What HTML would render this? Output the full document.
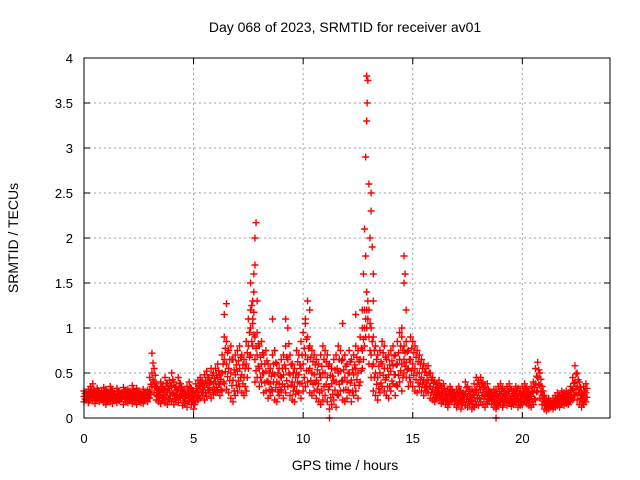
<!DOCTYPE html>
<html><head><meta charset="utf-8"><style>
body{margin:0;background:#fff}
svg{display:block;font-family:"Liberation Sans",sans-serif}
</style></head><body>
<svg id="chart" width="640" height="480">
<text x="345" y="32" font-size="14" text-anchor="middle">Day 068 of 2023, SRMTID for receiver av01</text>
<text x="345" y="470" font-size="14" text-anchor="middle">GPS time / hours</text>
<text transform="translate(18,238) rotate(-90)" font-size="14" text-anchor="middle">SRMTID / TECUs</text>
<g id="grid"></g><g id="ticks"></g><g id="marks"></g>
<rect x="84" y="58" width="526" height="360" fill="none" stroke="#000" stroke-width="1"/>
</svg>
<script>
const xTicks=[0,5,10,15,20];
const yTicks=[0,0.5,1,1.5,2,2.5,3,3.5,4];
const yTickLabels=["0","0.5","1","1.5","2","2.5","3","3.5","4"];
const seriesLow=[.18,.20,.17,.22,.19,.16,.21,.18,.20,.17,.15,.19,.18,.16,.20,.17,.19,.21,.15,.18,.17,.20,.16,.18,.15,.19,.17,.16,.20,.18,.22,.35,.28,.20,.18,.16,.19,.17,.15,.20,.18,.15,.20,.17,.22,.14,.16,.12,.18,.15,.10,.18,.20,.22,.25,.20,.24,.28,.22,.26,.28,.30,.25,.30,.38,.32,.28,.22,.18,.25,.30,.35,.28,.25,.30,.55,.70,.80,.40,.45,.35,.40,.28,.30,.22,.25,.30,.20,.18,.25,.30,.22,.28,.35,.25,.20,.18,.30,.28,.22,.30,.35,.40,.28,.25,.30,.22,.18,.15,.20,.25,.18,.10,.15,.20,.12,.25,.30,.20,.18,.22,.28,.18,.25,.30,.22,.40,.55,.80,1.00,.60,.45,.30,.25,.20,.28,.35,.30,.25,.22,.30,.38,.25,.35,.40,.30,.50,.45,.35,.40,.35,.30,.28,.35,.30,.25,.30,.28,.22,.20,.18,.22,.20,.16,.18,.15,.12,.18,.20,.15,.12,.15,.10,.18,.14,.12,.16,.10,.12,.15,.14,.18,.15,.12,.16,.20,.15,.12,.10,.14,.15,.12,.18,.14,.16,.13,.15,.17,.12,.14,.15,.18,.16,.14,.12,.15,.20,.30,.22,.15,.10,.08,.10,.12,.10,.12,.14,.12,.15,.14,.16,.15,.18,.20,.25,.20,.15,.12,.15,.18];
const seriesHigh=[.30,.28,.32,.35,.38,.30,.33,.28,.30,.34,.32,.28,.35,.30,.27,.33,.30,.28,.34,.30,.32,.30,.36,.28,.33,.30,.27,.32,.29,.31,.45,.72,.55,.38,.32,.40,.35,.45,.38,.42,.50,.40,.35,.45,.38,.32,.30,.35,.40,.33,.30,.38,.42,.45,.40,.48,.52,.45,.55,.50,.55,.60,.48,.70,.90,.85,.75,.80,.65,.70,.75,.80,.70,.65,.85,1.10,1.50,1.30,.90,.95,.80,.85,.70,.75,.60,.55,.70,.75,.60,.55,.65,.70,.80,1.00,.70,.60,.55,.75,.70,.85,.95,1.05,.90,.80,.75,.70,.65,.60,.70,.80,.75,.70,.60,.55,.65,.70,.80,.75,.65,.70,.60,.75,.65,.70,.80,.75,.90,1.00,1.20,1.40,1.20,1.00,.90,.80,.70,.75,.85,.80,.65,.70,.75,.80,.70,.85,.95,.90,.80,.85,.75,.90,.85,.80,.75,.70,.65,.60,.55,.58,.50,.45,.40,.38,.42,.35,.38,.30,.32,.35,.30,.28,.32,.35,.30,.28,.40,.35,.30,.32,.38,.45,.42,.45,.40,.35,.38,.30,.28,.32,.30,.35,.38,.33,.30,.35,.38,.32,.30,.35,.33,.30,.35,.38,.33,.30,.35,.40,.55,.62,.50,.35,.25,.20,.22,.18,.22,.25,.28,.25,.30,.28,.30,.28,.35,.45,.58,.50,.40,.30,.35,.38];
const seriesMid=[.24,.25,.22,.27,.26,.23,.28,.25,.24,.26,.23,.25,.27,.24,.22,.26,.24,.25,.28,.24,.25,.24,.27,.23,.26,.22,.24,.25,.23,.26,.30,.50,.40,.28,.25,.30,.26,.32,.28,.30,.35,.28,.26,.32,.30,.24,.22,.25,.28,.24,.20,.28,.30,.35,.32,.36,.38,.34,.40,.38,.40,.45,.38,.50,.65,.60,.55,.50,.42,.48,.52,.55,.48,.45,.60,.80,1.00,1.05,.65,.70,.55,.60,.50,.52,.40,.38,.50,.48,.40,.38,.45,.48,.55,.65,.48,.40,.35,.50,.48,.55,.60,.70,.65,.55,.50,.48,.42,.38,.45,.50,.50,.45,.35,.38,.42,.40,.50,.52,.42,.45,.40,.50,.42,.48,.55,.50,.65,.75,1.00,1.20,.90,.70,.60,.50,.45,.50,.60,.55,.45,.48,.52,.58,.48,.60,.65,.60,.65,.62,.55,.65,.60,.55,.50,.50,.45,.42,.40,.42,.35,.32,.28,.30,.30,.25,.28,.22,.22,.26,.25,.22,.22,.25,.20,.23,.27,.24,.22,.20,.25,.30,.28,.32,.28,.24,.26,.25,.22,.22,.20,.24,.26,.22,.24,.25,.27,.22,.22,.26,.22,.22,.25,.28,.24,.22,.24,.28,.38,.45,.36,.25,.18,.14,.16,.15,.16,.18,.20,.18,.22,.21,.23,.22,.26,.32,.40,.35,.28,.22,.25,.28];
const spikeTimes=[7.6,7.7,7.75,7.75,7.8,7.8,7.85,7.9,12.7,12.75,12.8,12.85,12.85,12.9,12.9,12.92,12.95,13.0,13.05,13.1,13.1,13.15,13.2,13.2,14.5,14.6,14.6,14.65,14.7,6.4,6.5,10.1,10.2,10.3,9.2,8.6,11.8,12.4,11.2,18.8];
const spikeValues=[1.2,1.1,1.4,1.6,1.7,2.0,2.17,1.3,1.2,1.6,2.1,1.8,2.9,3.3,3.8,3.5,3.75,2.6,2.0,2.3,2.5,1.9,1.6,1.3,1.0,1.8,1.5,1.6,1.2,1.15,1.27,1.1,1.3,1.2,1.1,1.1,1.05,1.15,0.0,0.0];
const timeStep=0.1;
const X=v=>84+v*(526/24), Y=v=>418-v*90;
const NS="http://www.w3.org/2000/svg";
function mk(tag,attrs,parent){const e=document.createElementNS(NS,tag);for(const k in attrs)e.setAttribute(k,attrs[k]);parent.appendChild(e);return e;}
const grid=document.getElementById('grid'),ticks=document.getElementById('ticks'),marks=document.getElementById('marks');
xTicks.forEach(t=>{
 if(t>0){const g=mk('line',{x1:X(t),x2:X(t),y1:58,y2:418,stroke:'#a0a0a0','stroke-dasharray':'2,3'},grid);
 
 }
 mk('line',{x1:X(t),x2:X(t),y1:418,y2:412,stroke:'#000'},ticks);
 mk('line',{x1:X(t),x2:X(t),y1:58,y2:64,stroke:'#000'},ticks);
 const l=mk('text',{x:X(t),y:443,'font-size':13,'text-anchor':'middle'},ticks);l.textContent=t;
 
 
});
yTicks.forEach((t,i)=>{
 if(t>0&&t<4){const g=mk('line',{x1:84,x2:610,y1:Y(t),y2:Y(t),stroke:'#a0a0a0','stroke-dasharray':'2,3'},grid);
 
 }
 mk('line',{x1:84,x2:90,y1:Y(t),y2:Y(t),stroke:'#000'},ticks);
 mk('line',{x1:604,x2:610,y1:Y(t),y2:Y(t),stroke:'#000'},ticks);
 const l=mk('text',{x:73,y:Y(t)+5,'font-size':13,'text-anchor':'end'},ticks);l.textContent=yTickLabels[i];
 
 
});
function plus(t,v){
 const x=X(t),y=Y(v);
 const p=mk('path',{d:`M${x-3.5} ${y}h7M${x} ${y-3.5}v7`,stroke:'#ff0000','stroke-width':1.4,fill:'none'},marks);
 
 
}
[seriesLow,seriesHigh,seriesMid].forEach(s=>s.forEach((v,i)=>plus(i*timeStep,v)));
[seriesLow,seriesHigh].forEach(s=>s.forEach((v,i)=>plus(i*timeStep+0.05,(v+seriesMid[i])/2)));
spikeTimes.forEach((t,i)=>plus(t,spikeValues[i]));
</script>
</body></html>
